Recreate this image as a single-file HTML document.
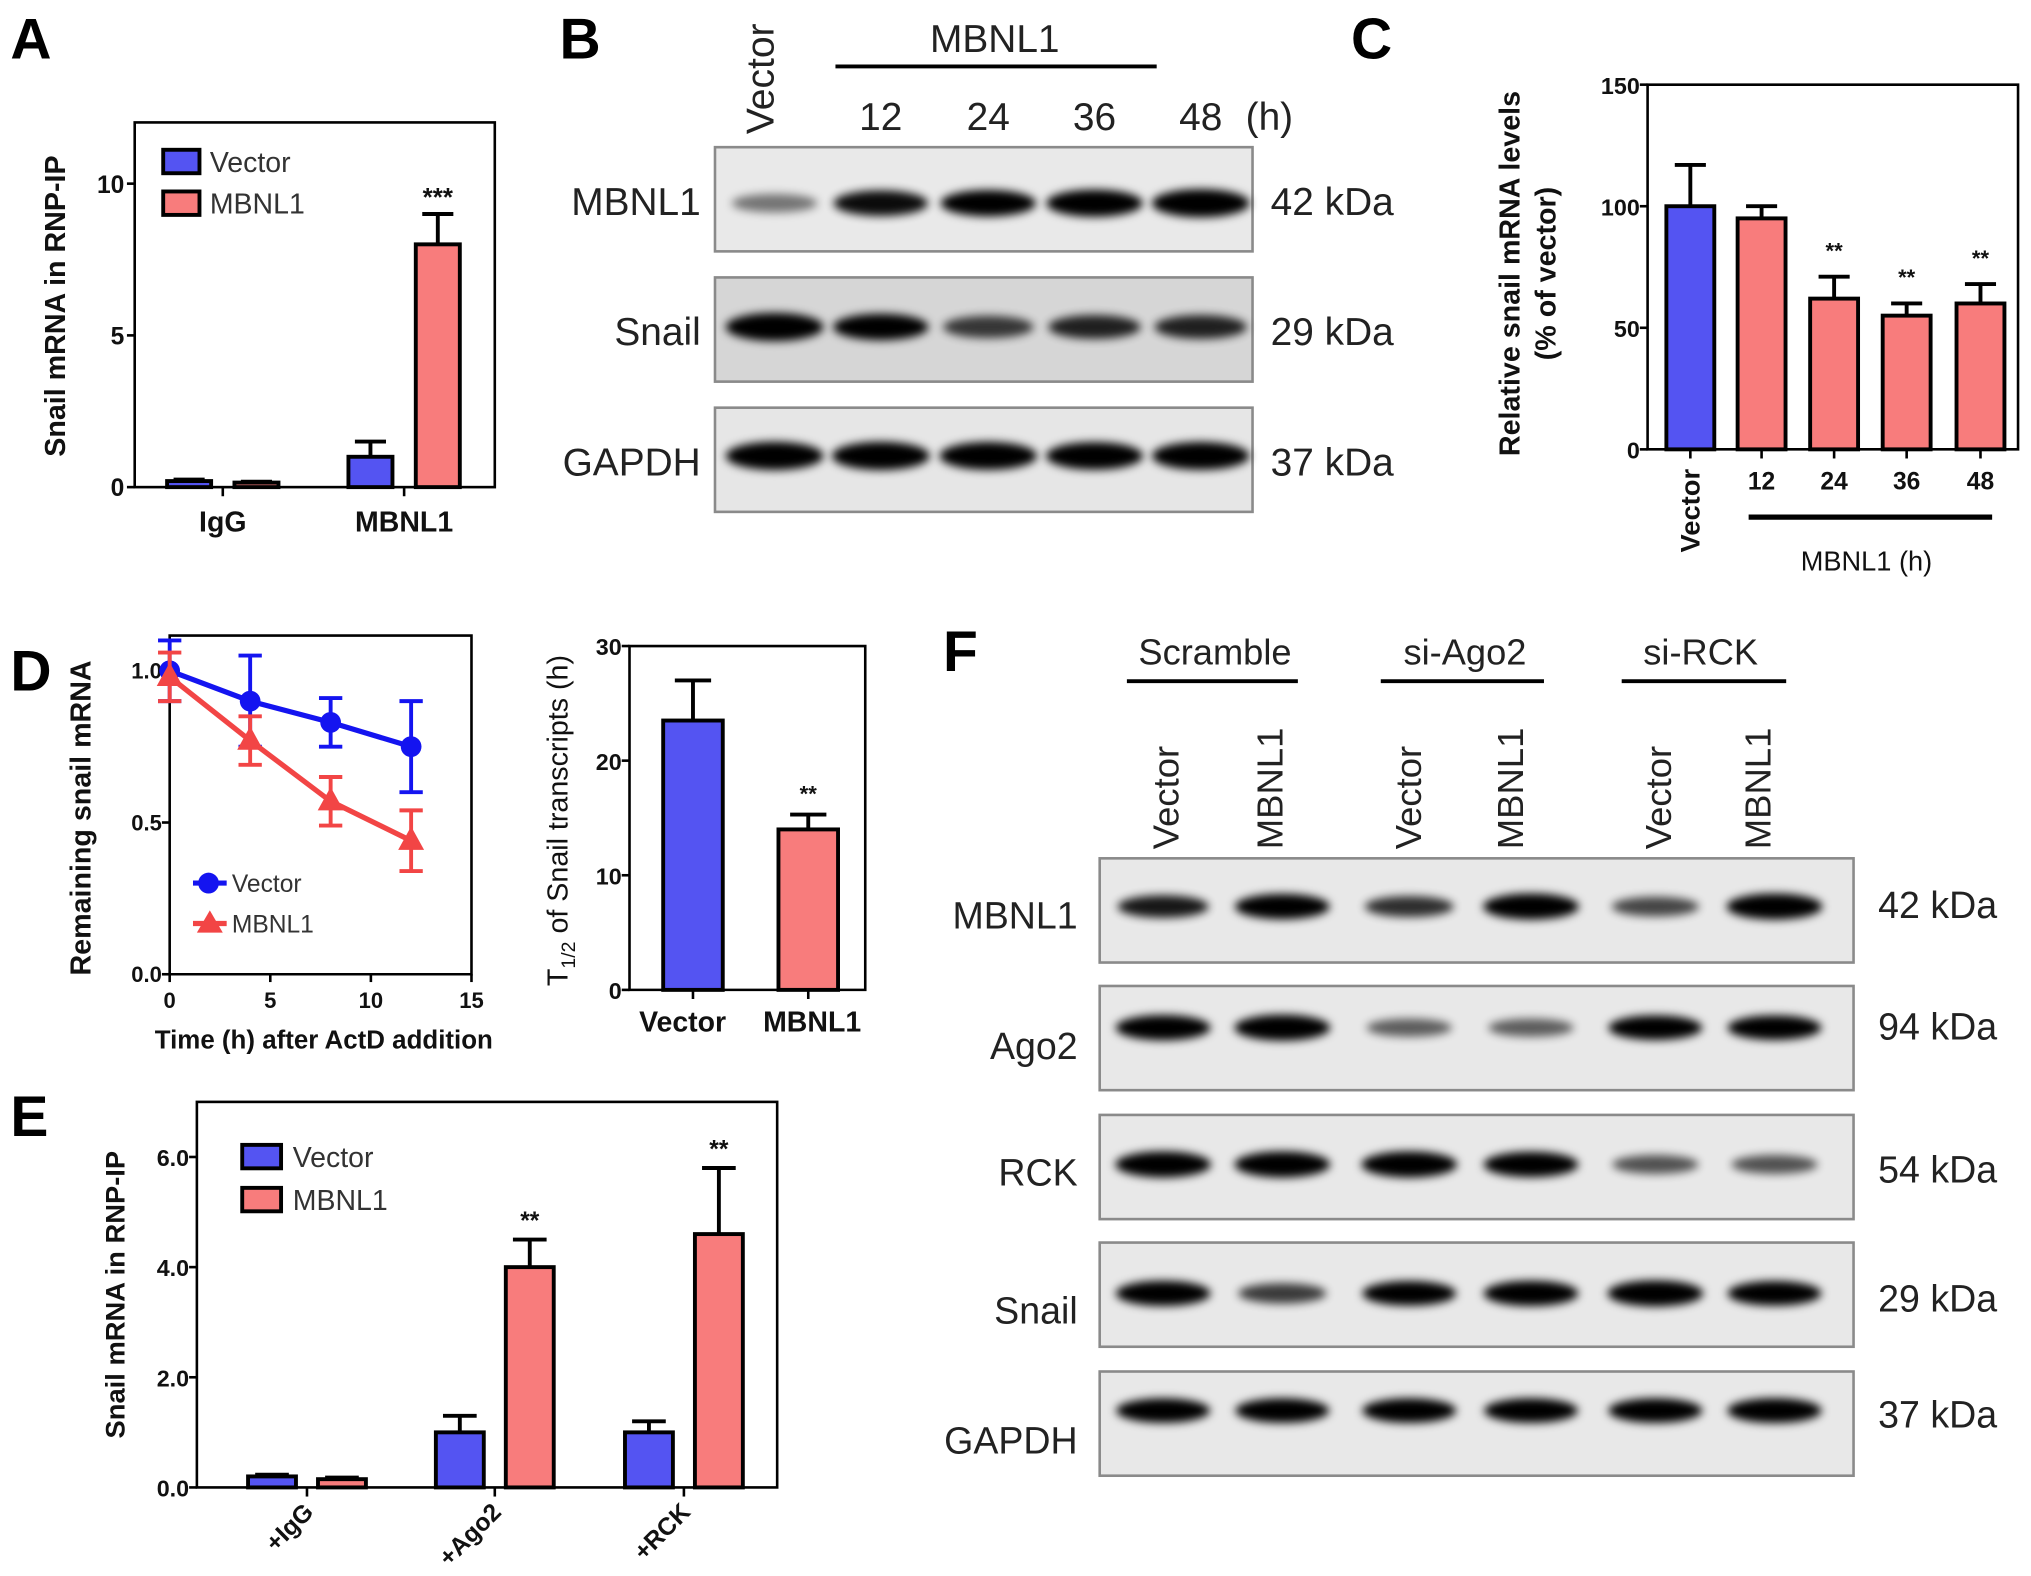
<!DOCTYPE html>
<html><head><meta charset="utf-8"><title>MBNL1 Snail figure</title>
<style>
html,body{margin:0;padding:0;background:#fff;}
svg{display:block;}
</style></head>
<body>
<svg id="fig" width="2031" height="1576" viewBox="0 0 1568 1210" preserveAspectRatio="none" xmlns="http://www.w3.org/2000/svg">
<defs>
<filter id="blur" x="-50%" y="-100%" width="200%" height="300%"><feGaussianBlur stdDeviation="3.4"/></filter>
</defs>
<rect width="1568" height="1210" fill="#fff"/>
<g id="root"></g>
</svg>
<script>
// ---------- DATA ----------
const aCategories = ['IgG', 'MBNL1'];
const aVector = [0.2, 1.0];
const aVectorErr = [0.05, 0.5];
const aMbnl = [0.15, 8.0];
const aMbnlErr = [0.03, 1.0];
const aTicks = [0, 5, 10];

const cCategories = ['Vector', '12', '24', '36', '48'];
const cValues = [100, 95, 62, 55, 60];
const cErr = [17, 5, 9, 5, 8];
const cSig = ['', '', '**', '**', '**'];
const cTicks = [0, 50, 100, 150];

const dTimes = [0, 4, 8, 12];
const dVector = [1.0, 0.9, 0.83, 0.75];
const dVectorErr = [0.1, 0.15, 0.08, 0.15];
const dMbnl = [0.98, 0.77, 0.57, 0.44];
const dMbnlErr = [0.08, 0.08, 0.08, 0.1];
const dYTicks = [0.0, 0.5, 1.0];
const dXTicks = [0, 5, 10, 15];

const hCategories = ['Vector', 'MBNL1'];
const hValues = [23.5, 14];
const hErr = [3.5, 1.3];
const hTicks = [0, 10, 20, 30];

const eCategories = ['+IgG', '+Ago2', '+RCK'];
const eVector = [0.2, 1.0, 1.0];
const eVectorErr = [0.03, 0.3, 0.2];
const eMbnl = [0.15, 4.0, 4.6];
const eMbnlErr = [0.03, 0.5, 1.2];
const eSig = ['', '**', '**'];
const eTicks = [0, 2, 4, 6];

const bRows = ['MBNL1', 'Snail', 'GAPDH'];
const bKda = ['42 kDa', '29 kDa', '37 kDa'];
const bMBNL1 = [0.35, 0.8, 0.85, 0.9, 0.97];
const bSnail = [0.97, 0.85, 0.6, 0.7, 0.7];
const bGAPDH = [0.97, 0.97, 0.95, 0.93, 0.95];

const fRows = ['MBNL1', 'Ago2', 'RCK', 'Snail', 'GAPDH'];
const fKda = ['42 kDa', '94 kDa', '54 kDa', '29 kDa', '37 kDa'];
const fMBNL1 = [0.75, 0.95, 0.65, 1, 0.55, 1];
const fAgo2 = [0.95, 1, 0.45, 0.45, 0.9, 0.9];
const fRCK = [1, 1, 1, 0.95, 0.5, 0.5];
const fSnail = [0.95, 0.6, 0.9, 0.95, 1, 0.9];
const fGAPDH = [0.9, 0.9, 0.9, 0.9, 0.9, 0.92];

// ---------- HELPERS ----------
const NS = 'http://www.w3.org/2000/svg';
const root = document.getElementById('root');
function mk(tag, attrs, parent) {
  const e = document.createElementNS(NS, tag);
  for (const k in attrs) e.setAttribute(k, attrs[k]);
  (parent || root).appendChild(e);
  return e;
}
function txt(s, x, y, size, opts, parent) {
  opts = opts || {};
  const e = mk('text', {x: x, y: y, 'font-size': size, 'text-anchor': opts.anchor || 'middle',
    'font-family': '"Liberation Sans", sans-serif', 'font-weight': opts.bold ? 'bold' : 'normal',
    fill: opts.fill || '#111'}, parent);
  if (opts.rot) e.setAttribute('transform', 'rotate(' + opts.rot + ' ' + x + ' ' + y + ')');
  e.textContent = s;
  return e;
}
function line(x1, y1, x2, y2, w, c, parent) {
  return mk('line', {x1: x1, y1: y1, x2: x2, y2: y2, stroke: c || '#000', 'stroke-width': w || 2}, parent);
}
const BLUE = '#5454f2', PINK = '#f87c7c';

function errBar(g, cx, yTop, yVal, cap, color) {
  const l1 = line(cx, yVal, cx, yTop, 3, color || '#000', g);
  
  
  const l2 = line(cx - cap, yTop, cx + cap, yTop, 3, color || '#000', g);
  
  
}
function bar(g, cx, w, y0, yv, color, name) {
  const r = mk('rect', {x: cx - w / 2, y: yv, width: w, height: y0 - yv, fill: color, stroke: '#000', 'stroke-width': 3}, g);
  
  
  return r;
}
function panelLetter(s, x, y) {
  const e = txt(s, x, y, 44, {bold: true, anchor: 'start', fill: '#000'});
  
  
}

// ---------- PANEL A ----------
(function () {
  const g = mk('g', {});
  
  
  panelLetter('A', 8, 45);
  const L = 104, R = 382, T = 94, B = 374;
  const y = v => B - v * 23.3;
  const gx = [172, 312];
  const box = mk('rect', {x: L, y: T, width: R - L, height: B - T, fill: 'none', stroke: '#000', 'stroke-width': 2}, g);
  
  
  aTicks.forEach(t => {
    line(L - 6, y(t), L, y(t), 2, '#000', g);
    const e = txt(String(t), L - 8, y(t) + 7, 19, {bold: true, anchor: 'end'}, g);
    
    
  });
  aCategories.forEach((c, i) => {
    line(gx[i], B, gx[i], B + 7, 2, '#000', g);
    const e = txt(c, gx[i], B + 34, 22, {bold: true}, g);
    
    
    errBar(g, gx[i] - 26, y(aVector[i] + aVectorErr[i]), y(aVector[i]), 12);
    bar(g, gx[i] - 26, 34, B, y(aVector[i]), BLUE, 'bar-vector-' + c.toLowerCase());
    errBar(g, gx[i] + 26, y(aMbnl[i] + aMbnlErr[i]), y(aMbnl[i]), 12);
    bar(g, gx[i] + 26, 34, B, y(aMbnl[i]), PINK, 'bar-mbnl1-' + c.toLowerCase());
  });
  const s = txt('***', gx[1] + 26, y(aMbnl[1] + aMbnlErr[1]) - 6, 20, {bold: true}, g);
  
  
  const yt = txt('Snail mRNA in RNP-IP', 50, 235, 22, {bold: true, rot: -90}, g);
  
  
  [['Vector', BLUE, 124], ['MBNL1', PINK, 156]].forEach(l => {
    const r = mk('rect', {x: 126, y: l[2] - 9, width: 28, height: 18, fill: l[1], stroke: '#000', 'stroke-width': 3}, g);
    
    
    const e = txt(l[0], 162, l[2] + 8, 22, {anchor: 'start', fill: '#333'}, g);
    
    
  });
})();

// ---------- BLOT HELPER ----------
function blot(name, x, y, w, h, lanes, vals, bw, bh, bg, bandDy) {
  const g = mk('g', {});
  
  
  const r = mk('rect', {x: x, y: y, width: w, height: h, fill: bg, stroke: '#8a8a8a', 'stroke-width': 2}, g);
  
  
  vals.forEach((v, i) => {
    const e = mk('ellipse', {cx: lanes[i], cy: y + h / 2 + (bandDy || 0), rx: bw / 2 * (0.8 + 0.2 * v), ry: bh * (0.45 + 0.55 * v), fill: '#000', opacity: Math.min(1, 0.15 + v), filter: 'url(#blur)'}, g);
    
    
  });
}

// ---------- PANEL B ----------
(function () {
  panelLetter('B', 432, 45);
  const lanes = [598, 680, 763, 845, 927];
  const rowsY = [113, 213, 313];
  const vals = [bMBNL1, bSnail, bGAPDH];
  const bgs = ['#e9e9e9', '#d6d6d6', '#e6e6e6'];
  const dy = [3, -2, -3];
  bRows.forEach((r, i) => {
    blot('blot-b-' + r.toLowerCase(), 552, rowsY[i], 415, 80, lanes, vals[i], 76, 11, bgs[i], dy[i]);
    const l = txt(r, 541, rowsY[i] + 52, 30, {anchor: 'end', fill: '#222'});
    
    
    const k = txt(bKda[i], 981, rowsY[i] + 52, 30, {anchor: 'start', fill: '#222'});
    
    
  });
  const v = txt('Vector', 597, 103, 30, {anchor: 'start', rot: -90, fill: '#222'});
  
  
  const m = txt('MBNL1', 768, 40, 30, {fill: '#222'});
  
  
  const gl = line(645, 51, 893, 51, 3);
  
  
  ['12', '24', '36', '48'].forEach((s, i) => {
    const e = txt(s, lanes[i + 1], 100, 30, {fill: '#222'});
    
    
  });
  const h = txt('(h)', 980, 100, 30, {fill: '#222'});
  
  
})();

// ---------- PANEL C ----------
(function () {
  const g = mk('g', {});
  
  
  panelLetter('C', 1043, 45);
  const L = 1272, R = 1558, T = 65, B = 345;
  const y = v => B - v * (B - T) / 150;
  const xs = [1305, 1360, 1416, 1472, 1529];
  const f = mk('path', {d: 'M' + L + ' ' + T + ' H' + R + ' V' + B + ' H' + L + ' Z', fill: 'none', stroke: '#000', 'stroke-width': 2}, g);
  
  
  cTicks.forEach(t => {
    line(L - 6, y(t), L, y(t), 2, '#000', g);
    const e = txt(String(t), L - 6, y(t) + 7, 18, {bold: true, anchor: 'end'}, g);
    
    
  });
  cCategories.forEach((c, i) => {
    line(xs[i], B, xs[i], B + 7, 2, '#000', g);
    errBar(g, xs[i], y(cValues[i] + cErr[i]), y(cValues[i]), 12);
    bar(g, xs[i], 37, B, y(cValues[i]), i === 0 ? BLUE : PINK, 'bar-' + c.toLowerCase());
    if (cSig[i]) {
      const s = txt(cSig[i], xs[i], y(cValues[i] + cErr[i]) - 14, 17, {bold: true}, g);
      
      
    }
    let e;
    if (i === 0) e = txt(c, xs[i] + 7, 360, 21, {bold: true, anchor: 'end', rot: -90}, g);
    else e = txt(c, xs[i], 376, 19, {bold: true}, g);
    
    
  });
  const gl = line(1350, 397, 1538, 397, 4, '#000', g);
  
  
  const gt = txt('MBNL1 (h)', 1441, 438, 21, {}, g);
  
  
  const y1 = txt('Relative snail mRNA levels', 1173, 210, 22, {bold: true, rot: -90}, g);
  
  
  const y2 = txt('(% of vector)', 1201, 210, 22, {bold: true, rot: -90}, g);
  
  
})();

// ---------- PANEL D (line) ----------
(function () {
  const g = mk('g', {});
  
  
  panelLetter('D', 8, 530);
  const L = 131, R = 364, T = 488, B = 748;
  const x = t => L + t * (R - L) / 15;
  const y = v => B - v * 233;
  const f = mk('path', {d: 'M' + L + ' ' + T + ' H' + R + ' V' + B + ' H' + L + ' Z', fill: 'none', stroke: '#000', 'stroke-width': 2}, g);
  
  
  dYTicks.forEach(t => {
    line(L - 6, y(t), L, y(t), 2, '#000', g);
    const e = txt(t.toFixed(1), L - 6, y(t) + 6, 17, {bold: true, anchor: 'end'}, g);
    
    
  });
  dXTicks.forEach(t => {
    line(x(t), B, x(t), B + 6, 2, '#000', g);
    const e = txt(String(t), x(t), B + 26, 17, {bold: true}, g);
    
    
  });
  function series(vals, errs, color, name, tri) {
    const pts = dTimes.map((t, i) => x(t) + ',' + y(vals[i])).join(' ');
    const pl = mk('polyline', {points: pts, fill: 'none', stroke: color, 'stroke-width': 4}, g);
    
    
    dTimes.forEach((t, i) => {
      line(x(t), y(vals[i] - errs[i]), x(t), y(vals[i] + errs[i]), 3, color, g);
      line(x(t) - 9, y(vals[i] + errs[i]), x(t) + 9, y(vals[i] + errs[i]), 3, color, g);
      line(x(t) - 9, y(vals[i] - errs[i]), x(t) + 9, y(vals[i] - errs[i]), 3, color, g);
      let p;
      if (tri) p = mk('polygon', {points: (x(t)) + ',' + (y(vals[i]) - 11) + ' ' + (x(t) - 10) + ',' + (y(vals[i]) + 7) + ' ' + (x(t) + 10) + ',' + (y(vals[i]) + 7), fill: color}, g);
      else p = mk('circle', {cx: x(t), cy: y(vals[i]), r: 8, fill: color}, g);
      
      
    });
  }
  series(dVector, dVectorErr, '#1414f0', 'vector', false);
  series(dMbnl, dMbnlErr, '#f24545', 'mbnl1', true);
  const xt = txt('Time (h) after ActD addition', 250, 805, 20, {bold: true}, g);
  
  
  const yt = txt('Remaining snail mRNA', 70, 628, 22, {bold: true, rot: -90}, g);
  
  
  line(149, 678, 175, 678, 4, '#1414f0', g);
  mk('circle', {cx: 161, cy: 678, r: 8, fill: '#1414f0'}, g);
  const l1 = txt('Vector', 179, 685, 19, {anchor: 'start', fill: '#333'}, g);
  
  
  line(149, 709, 175, 709, 4, '#f24545', g);
  mk('polygon', {points: '162,699 152,716 172,716', fill: '#f24545'}, g);
  const l2 = txt('MBNL1', 179, 716, 19, {anchor: 'start', fill: '#333'}, g);
  
  
})();

// ---------- PANEL D (half-life bars) ----------
(function () {
  const g = mk('g', {});
  
  
  const L = 486, R = 668, T = 496, B = 760;
  const y = v => B - v * (B - T) / 30;
  const xs = [535, 624];
  const f = mk('path', {d: 'M' + L + ' ' + T + ' H' + R + ' V' + B + ' H' + L + ' Z', fill: 'none', stroke: '#000', 'stroke-width': 2}, g);
  
  
  hTicks.forEach(t => {
    line(L - 6, y(t), L, y(t), 2, '#000', g);
    const e = txt(String(t), L - 6, y(t) + 7, 18, {bold: true, anchor: 'end'}, g);
    
    
  });
  hCategories.forEach((c, i) => {
    line(xs[i], B, xs[i], B + 7, 2, '#000', g);
    errBar(g, xs[i], y(hValues[i] + hErr[i]), y(hValues[i]), 14);
    bar(g, xs[i], 46, B, y(hValues[i]), i === 0 ? BLUE : PINK, 'bar-halflife-' + c.toLowerCase());
    const e = txt(c, xs[i] - (i === 0 ? 8 : -3), 792, 22, {bold: true}, g);
    
    
  });
  const s = txt('**', xs[1], y(hValues[1] + hErr[1]) - 10, 17, {bold: true}, g);
  
  
  const yt = mk('text', {x: 438, y: 630, 'font-size': 22, 'text-anchor': 'middle', 'font-family': '"Liberation Sans", sans-serif', fill: '#111', transform: 'rotate(-90 438 630)'}, g);
  
  
  yt.innerHTML = 'T<tspan font-size="15" dy="6">1/2</tspan><tspan dy="-6"> of Snail transcripts (h)</tspan>';
})();

// ---------- PANEL E ----------
(function () {
  const g = mk('g', {});
  
  
  panelLetter('E', 8, 872);
  const L = 152, R = 600, T = 846, B = 1142;
  const y = v => B - v * (B - T) / 7;
  const gx = [237, 382, 528];
  const f = mk('rect', {x: L, y: T, width: R - L, height: B - T, fill: 'none', stroke: '#000', 'stroke-width': 2}, g);
  
  
  eTicks.forEach(t => {
    line(L - 6, y(t), L, y(t), 2, '#000', g);
    const e = txt(t.toFixed(1), L - 6, y(t) + 7, 18, {bold: true, anchor: 'end'}, g);
    
    
  });
  eCategories.forEach((c, i) => {
    line(gx[i], B, gx[i], B + 7, 2, '#000', g);
    errBar(g, gx[i] - 27, y(eVector[i] + eVectorErr[i]), y(eVector[i]), 13);
    bar(g, gx[i] - 27, 37, B, y(eVector[i]), BLUE, 'bar-vector-' + c.slice(1).toLowerCase());
    errBar(g, gx[i] + 27, y(eMbnl[i] + eMbnlErr[i]), y(eMbnl[i]), 13);
    bar(g, gx[i] + 27, 37, B, y(eMbnl[i]), PINK, 'bar-mbnl1-' + c.slice(1).toLowerCase());
    if (eSig[i]) {
      const s = txt(eSig[i], gx[i] + 27, y(eMbnl[i] + eMbnlErr[i]) - 8, 19, {bold: true}, g);
      
      
    }
    const e = txt(c, gx[i] + 6, B + 20, 19, {bold: true, anchor: 'end', rot: -45}, g);
    
    
  });
  const yt = txt('Snail mRNA in RNP-IP', 96, 994, 21, {bold: true, rot: -90}, g);
  
  
  [['Vector', BLUE, 888], ['MBNL1', PINK, 921]].forEach(l => {
    const r = mk('rect', {x: 187, y: l[2] - 9, width: 30, height: 18, fill: l[1], stroke: '#000', 'stroke-width': 3}, g);
    
    
    const e = txt(l[0], 226, l[2] + 8, 22, {anchor: 'start', fill: '#333'}, g);
    
    
  });
})();

// ---------- PANEL F ----------
(function () {
  panelLetter('F', 728, 515);
  const lanes = [898, 990, 1088, 1182, 1278, 1370];
  const rowsY = [659, 757, 856, 954, 1053];
  const vals = [fMBNL1, fAgo2, fRCK, fSnail, fGAPDH];
  const dy = [-3, -8, -2, -1, -10];
  const labelY = [713, 813, 910, 1016, 1116];
  const kdaY = [705, 798, 908, 1007, 1096];
  fRows.forEach((r, i) => {
    blot('blot-f-' + r.toLowerCase(), 849, rowsY[i], 582, 80, lanes, vals[i], 74, 10, '#e8e8e8', dy[i]);
    const l = txt(r, 832, labelY[i], 29, {anchor: 'end', fill: '#222'});
    
    
    const k = txt(fKda[i], 1450, kdaY[i], 29, {anchor: 'start', fill: '#222'});
    
    
  });
  [['Scramble', 938, 870, 1002], ['si-Ago2', 1131, 1066, 1192], ['si-RCK', 1313, 1252, 1379]].forEach(gp => {
    const t = txt(gp[0], gp[1], 510, 28, {fill: '#222'});
    
    
    const l = line(gp[2], 523, gp[3], 523, 3);
    
    
  });
  const laneNames = ['Vector', 'MBNL1', 'Vector', 'MBNL1', 'Vector', 'MBNL1'];
  const laneX = [910, 990, 1097, 1176, 1290, 1367];
  laneNames.forEach((s, i) => {
    const e = txt(s, laneX[i], 652, 28, {anchor: 'start', rot: -90, fill: '#222'});
    
    
  });
})();
</script>
</body></html>
